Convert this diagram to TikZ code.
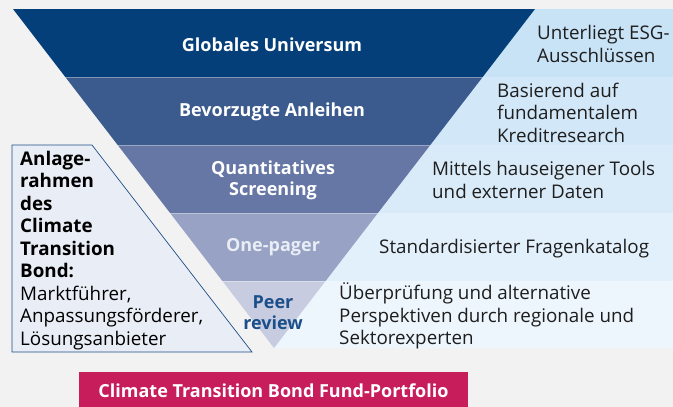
\documentclass[tikz,border=0pt]{standalone}
\usepackage{fontspec}
\setmainfont{Open Sans}
\definecolor{bgc}{HTML}{F2F2F2}
\definecolor{fa}{HTML}{043F79}
\definecolor{fb}{HTML}{3B5A8E}
\definecolor{fc}{HTML}{6677A6}
\definecolor{fd}{HTML}{97A2C4}
\definecolor{fe}{HTML}{C8CCE0}
\definecolor{ra}{HTML}{C8E2F6}
\definecolor{rb}{HTML}{D2E7F8}
\definecolor{rc}{HTML}{D9EBF9}
\definecolor{rd}{HTML}{E2F0FC}
\definecolor{re}{HTML}{EEF6FD}
\definecolor{boxfill}{HTML}{E9EDF5}
\definecolor{boxline}{HTML}{1F4E86}
\definecolor{peerc}{HTML}{1B4F8A}
\definecolor{txtc}{HTML}{1E1E1E}
\definecolor{barc}{HTML}{C81D5B}
\tikzset{
  ftext/.style={inner sep=0pt, align=center, font=\fontsize{18}{21.5}\selectfont\bfseries, text=white},
  rtext/.style={inner sep=0pt, align=left, anchor=west, font=\fontsize{18.8}{22.5}\selectfont, text=txtc},
  sep/.style={white, opacity=0.35, line width=0.6pt}
}
\begin{document}
\begin{tikzpicture}[x=1pt,y=-1pt]
\useasboundingbox (0,0) rectangle (673,407);
\fill[bgc] (0,0) rectangle (673,407);
% right bands
\fill[ra] (274,9) rectangle (673,77);
\fill[rb] (274,77) rectangle (673,145);
\fill[rc] (274,145) rectangle (673,213);
\fill[rd] (274,213) rectangle (673,281);
\fill[re] (274,281) rectangle (673,348);
% funnel bands
\fill[fa] (13,9) -- (535,9) -- (482.7,77) -- (65.3,77) -- cycle;
\fill[fb] (65.3,77) -- (482.7,77) -- (430.3,145) -- (117.7,145) -- cycle;
\fill[fc] (117.7,145) -- (430.3,145) -- (377.9,213) -- (170.1,213) -- cycle;
\fill[fd] (170.1,213) -- (377.9,213) -- (325.6,281) -- (222.4,281) -- cycle;
\fill[fe] (222.4,281) -- (325.6,281) -- (274,348) -- cycle;
\draw[sep] (65.3,77) -- (482.7,77);
\draw[sep] (117.7,145) -- (430.3,145);
\draw[sep] (170.1,213) -- (377.9,213);
\draw[sep] (222.4,281) -- (325.6,281);
% funnel labels
\node[ftext] (glob) at (272,45) {Globales Universum};
\node[ftext] (bev) at (272,112) {Bevorzugte Anleihen};
\node[ftext] (quant) at (273,180.5) {Quantitatives\\Screening};
\node[ftext, text=boxfill] (one) at (273,247) {One-pager};
\node[ftext, text=peerc] (peer) at (273,312.5) {Peer\\review};
% right descriptions
\node[rtext] (esg) at (537,44) {Unterliegt ESG-\\Ausschlüssen};
\node[rtext] (basis) at (497,112.5) {Basierend auf\\fundamentalem\\Kreditresearch};
\node[rtext] (tools) at (432,180) {Mittels hauseigener Tools\\und externer Daten};
\node[rtext] (std) at (379,249) {Standardisierter Fragenkatalog};
\node[rtext] (ueber) at (339,316) {Überprüfung und alternative\\Perspektiven durch regionale und\\Sektorexperten};
% left box
\draw[boxline, fill=boxfill, line width=0.7pt] (12,145) -- (92,145) -- (252,352) -- (12,352) -- cycle;
\node[rtext, text=black] (frame) at (20,250.5) {\textbf{Anlage-}\\\textbf{rahmen}\\\textbf{des}\\\textbf{Climate}\\\textbf{Transition}\\\textbf{Bond:}\\Marktführer,\\Anpassungsförderer,\\Lösungsanbieter};
% bottom bar
\fill[barc] (79,372) rectangle (468,407);
\node[ftext] (fund) at (273.5,391) {Climate Transition Bond Fund-Portfolio};
\end{tikzpicture}
\end{document}
